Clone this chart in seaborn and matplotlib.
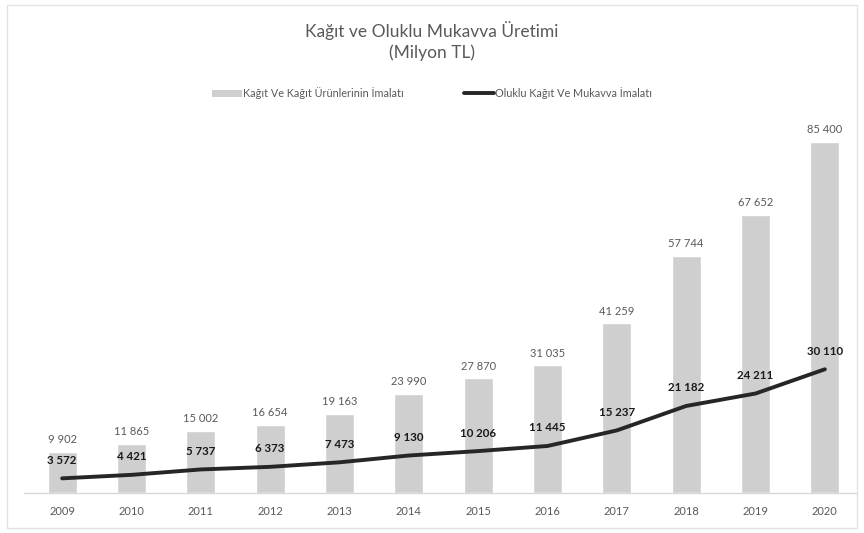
import matplotlib
matplotlib.use("Agg")
import matplotlib.pyplot as plt
import seaborn as sns
import pandas as pd
from matplotlib.lines import Line2D
from matplotlib.patches import Patch, Rectangle

years = ["2009", "2010", "2011", "2012", "2013", "2014", "2015", "2016", "2017", "2018", "2019", "2020"]
kagit_urunleri = [9902, 11865, 15002, 16654, 19163, 23990, 27870, 31035, 41259, 57744, 67652, 85400]
oluklu_mukavva = [3572, 4421, 5737, 6373, 7473, 9130, 10206, 11445, 15237, 21182, 24211, 30110]

bar_name = "Kağıt Ve Kağıt Ürünlerinin İmalatı"
line_name = "Oluklu Kağıt Ve Mukavva İmalatı"

df = pd.DataFrame({"yil": years, "kagit": kagit_urunleri, "oluklu": oluklu_mukavva})

sns.set_theme(style="white")
plt.rcParams["font.family"] = ["Lato", "DejaVu Sans"]

bar_col = "#cfcfcf"
line_col = "#262626"
txt_col = "#595959"

fig = plt.figure(figsize=(8.64, 5.33), dpi=100)
ax = fig.add_axes([0.0278, 0.075, 0.963, 0.694])

sns.barplot(data=df, x="yil", y="kagit", color=bar_col, width=0.42, ax=ax, saturation=1)
sns.lineplot(data=df, x="yil", y="oluklu", color=line_col, linewidth=2.8, ax=ax, sort=False)

def fmt(v):
    return f"{v:,}".replace(",", " ")

for i, v in enumerate(kagit_urunleri):
    ax.annotate(fmt(v), (i, v), xytext=(0, 5), textcoords="offset points",
                ha="center", va="bottom", fontsize=8, color=txt_col)
for i, v in enumerate(oluklu_mukavva):
    ax.annotate(fmt(v), (i, v), xytext=(0, 9), textcoords="offset points",
                ha="center", va="bottom", fontsize=8.3, color="#1a1a1a", fontweight="bold")

ax.set_xlim(-0.55, 11.45)
ax.set_ylim(0, 90000)
ax.set_xlabel("")
ax.set_ylabel("")
ax.set_yticks([])
ax.tick_params(axis="x", length=0, labelsize=8, labelcolor=txt_col, pad=9)
for s in ["top", "right", "left"]:
    ax.spines[s].set_visible(False)
ax.spines["bottom"].set_color("#d9d9d9")
ax.spines["bottom"].set_linewidth(1)

fig.text(0.5, 0.943, "Kağıt ve Oluklu Mukavva Üretimi", ha="center", va="center",
         fontsize=12.5, color=txt_col)
fig.text(0.5, 0.902, "(Milyon TL)", ha="center", va="center", fontsize=12.5, color=txt_col)

handles = [Patch(facecolor=bar_col, edgecolor="none"),
           Line2D([0], [0], color=line_col, linewidth=2.8)]
fig.legend(handles, [bar_name, line_name], loc="center", bbox_to_anchor=(0.5, 0.825),
           ncol=2, frameon=False, fontsize=7.8, labelcolor=txt_col,
           handlelength=2.8, handletextpad=0.1, columnspacing=5.5)

fig.patches.append(Rectangle((0.008, 0.01), 0.984, 0.98, transform=fig.transFigure,
                             fill=False, edgecolor="#e3e3e3", linewidth=1))

fig.savefig("out.png", dpi=100)
